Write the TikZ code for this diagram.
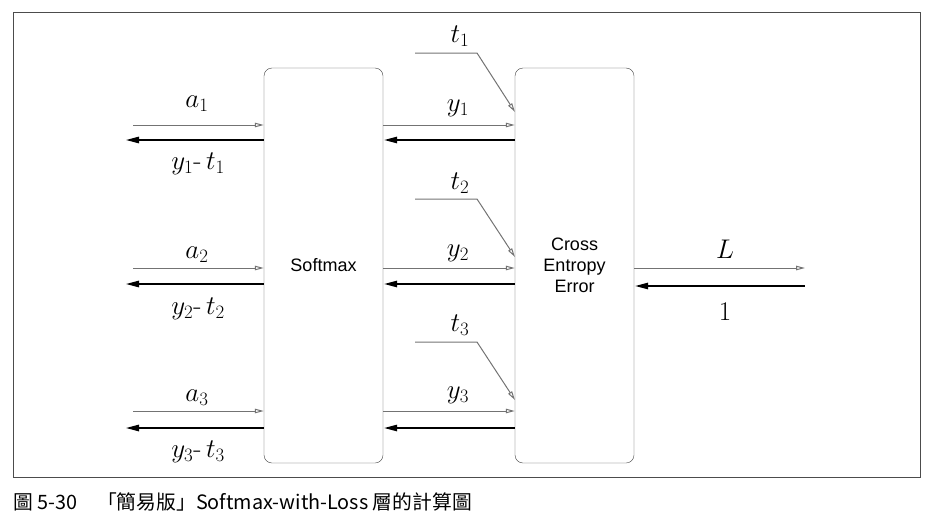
\RequirePackage{fix-cm}
\documentclass[tikz,border=0pt]{standalone}
\usepackage{fontspec}
\setsansfont{Liberation Sans}
\newfontfamily\cjk{Noto Sans CJK TC}
\usepackage{tikz}
\usetikzlibrary{arrows.meta}

\begin{document}
\begin{tikzpicture}[x=1pt, y=-1pt,
        layer/.style={draw=black!75, rounded corners=8pt, minimum width=119pt, minimum height=395pt, inner sep=0pt, font=\sffamily\fontsize{18}{21}\selectfont, align=center},
        fwd/.style={draw=black!55, line width=1pt, -{Triangle[open, length=9pt, width=4.5pt]}},
        bwd/.style={draw=black, line width=2.6pt, {Triangle[length=14pt, width=6pt]}-},
        lbl/.style={inner sep=0pt, font=\fontsize{27}{30}\selectfont}]
        \useasboundingbox (0,0) rectangle (928,522);
        % Frame
        \draw[black!70, line width=0.8pt] (13,12) rectangle (920,477);

        % Layers
        \node[layer] (sm) at (323.5,265.5) {Softmax};
        \node[layer] (ce) at (574.5,265.5) {Cross\\Entropy\\Error};

        % Free ends
        \coordinate (a1in) at (133,125);
        \coordinate (a2in) at (133,268);
        \coordinate (a3in) at (133,411);
        \coordinate (d1out) at (125,140);
        \coordinate (d2out) at (125,284);
        \coordinate (d3out) at (125,428);
        \coordinate (t1in) at (415,53);
        \coordinate (t2in) at (415,199);
        \coordinate (t3in) at (415,342);
        \coordinate (t1end) at (515,112);
        \coordinate (t2end) at (515,257);
        \coordinate (t3end) at (515,400);
        \coordinate (Lout) at (805,268);
        \coordinate (Lin) at (805,286);

        % Inputs of Softmax
        \draw[fwd] (a1in) -- (a1in -| sm.west);
        \draw[fwd] (a2in) -- (a2in -| sm.west);
        \draw[fwd] (a3in) -- (a3in -| sm.west);
        \draw[bwd] (d1out) -- (d1out -| sm.west);
        \draw[bwd] (d2out) -- (d2out -| sm.west);
        \draw[bwd] (d3out) -- (d3out -| sm.west);

        % Softmax to Cross Entropy Error
        \draw[fwd] (sm.east |- a1in) -- (ce.west |- a1in);
        \draw[fwd] (sm.east |- a2in) -- (ce.west |- a2in);
        \draw[fwd] (sm.east |- a3in) -- (ce.west |- a3in);
        \draw[bwd] (sm.east |- d1out) -- (ce.west |- d1out);
        \draw[bwd] (sm.east |- d2out) -- (ce.west |- d2out);
        \draw[bwd] (sm.east |- d3out) -- (ce.west |- d3out);

        % Teacher labels
        \draw[fwd] (t1in) -- ++(62,0) -- (t1end);
        \draw[fwd] (t2in) -- ++(62,0) -- (t2end);
        \draw[fwd] (t3in) -- ++(62,0) -- (t3end);

        % Loss
        \draw[fwd] (ce.east |- Lout) -- (Lout);
        \draw[bwd] (ce.east |- Lin) -- (Lin);

        % Labels
        \node[lbl] (la1) at (197,104) {$a_1$};
        \node[lbl] (la2) at (197,255) {$a_2$};
        \node[lbl] (la3) at (197,398) {$a_3$};
        \node[lbl] (ld1) at (198,164) {$y_1$-\,$t_1$};
        \node[lbl] (ld2) at (198,309) {$y_2$-\,$t_2$};
        \node[lbl] (ld3) at (198,452) {$y_3$-\,$t_3$};
        \node[lbl] (ly1) at (458,108) {$y_1$};
        \node[lbl] (ly2) at (458,253) {$y_2$};
        \node[lbl] (ly3) at (458,395) {$y_3$};
        \node[lbl] (lt1) at (460,36) {$t_1$};
        \node[lbl] (lt2) at (460,183) {$t_2$};
        \node[lbl] (lt3) at (460,325) {$t_3$};
        \node[lbl] (lL) at (725,249) {$L$};
        \node[lbl] (lone) at (725,312) {$1$};

        % Caption
        \node[anchor=west, inner sep=0pt, font=\cjk\fontsize{19.8}{22}\selectfont] (cap) at (13,502) {圖 5-30\quad 「簡易版」Softmax-with-Loss 層的計算圖};
\end{tikzpicture}
\end{document}
